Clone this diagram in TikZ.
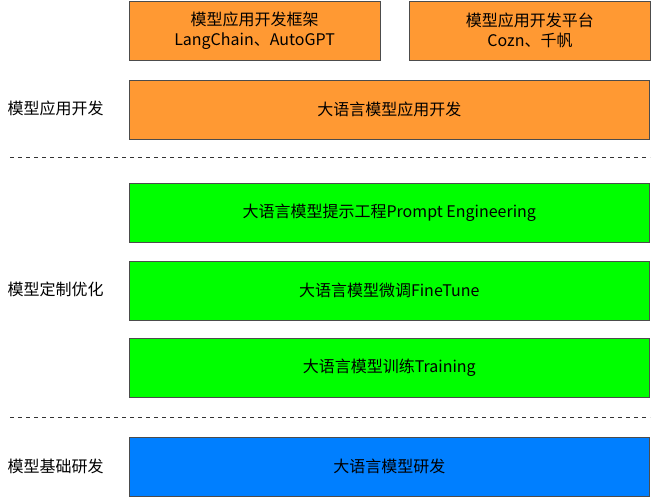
\documentclass[tikz,border=0pt]{standalone}
\usepackage{fontspec}
\setmainfont{Liberation Sans}
\newfontfamily\cjk{Noto Sans CJK SC}
\usetikzlibrary{positioning}
\definecolor{layerorange}{RGB}{255, 153, 51}
\definecolor{layergreen}{RGB}{0, 255, 0}
\definecolor{layerblue}{RGB}{0, 127, 255}
\tikzset{
  layer/.style={draw=black!70, anchor=north west, inner sep=0pt,
                align=center, font=\cjk\fontsize{12}{15}\selectfont},
  widebox/.style={layer, minimum width=390pt, minimum height=44pt},
  smallbox/.style={layer, minimum width=188pt, minimum height=44pt},
  sidelabel/.style={anchor=west, font=\cjk\fontsize{12}{15}\selectfont},
  divider/.style={draw, dashed, black!80},
}
\begin{document}
\begin{tikzpicture}[x=0.75pt, y=-0.75pt]
  \useasboundingbox (0,0) rectangle (654,498);
  % application layer
  \node [smallbox, fill=layerorange] (framework) at (129,1)
        {模型应用开发框架\\LangChain、AutoGPT};
  \node [smallbox, fill=layerorange, minimum width=181pt] (platform) at (409,1)
        {模型应用开发平台\\Cozn、千帆};
  \node [widebox, fill=layerorange] (appdev) at (129,80) {大语言模型应用开发};
  \node [sidelabel] (applabel) at (3,108) {模型应用开发};
  \coordinate (d1l) at (10,157);
  \coordinate (d1r) at (650,157);
  \draw [divider] (d1l) -- (d1r);
  % tuning layer
  \node [widebox, fill=layergreen] (prompt) at (129,183) {大语言模型提示工程Prompt Engineering};
  \node [widebox, fill=layergreen] (finetune) at (129,261) {大语言模型微调FineTune};
  \node [widebox, fill=layergreen] (training) at (129,338) {大语言模型训练Training};
  \node [sidelabel] (tunelabel) at (3,289) {模型定制优化};
  \coordinate (d2l) at (10,417);
  \coordinate (d2r) at (650,417);
  \draw [divider] (d2l) -- (d2r);
  % base layer
  \node [widebox, fill=layerblue] (research) at (129,437) {大语言模型研发};
  \node [sidelabel] (baselabel) at (3,466) {模型基础研发};
\end{tikzpicture}
\end{document}
